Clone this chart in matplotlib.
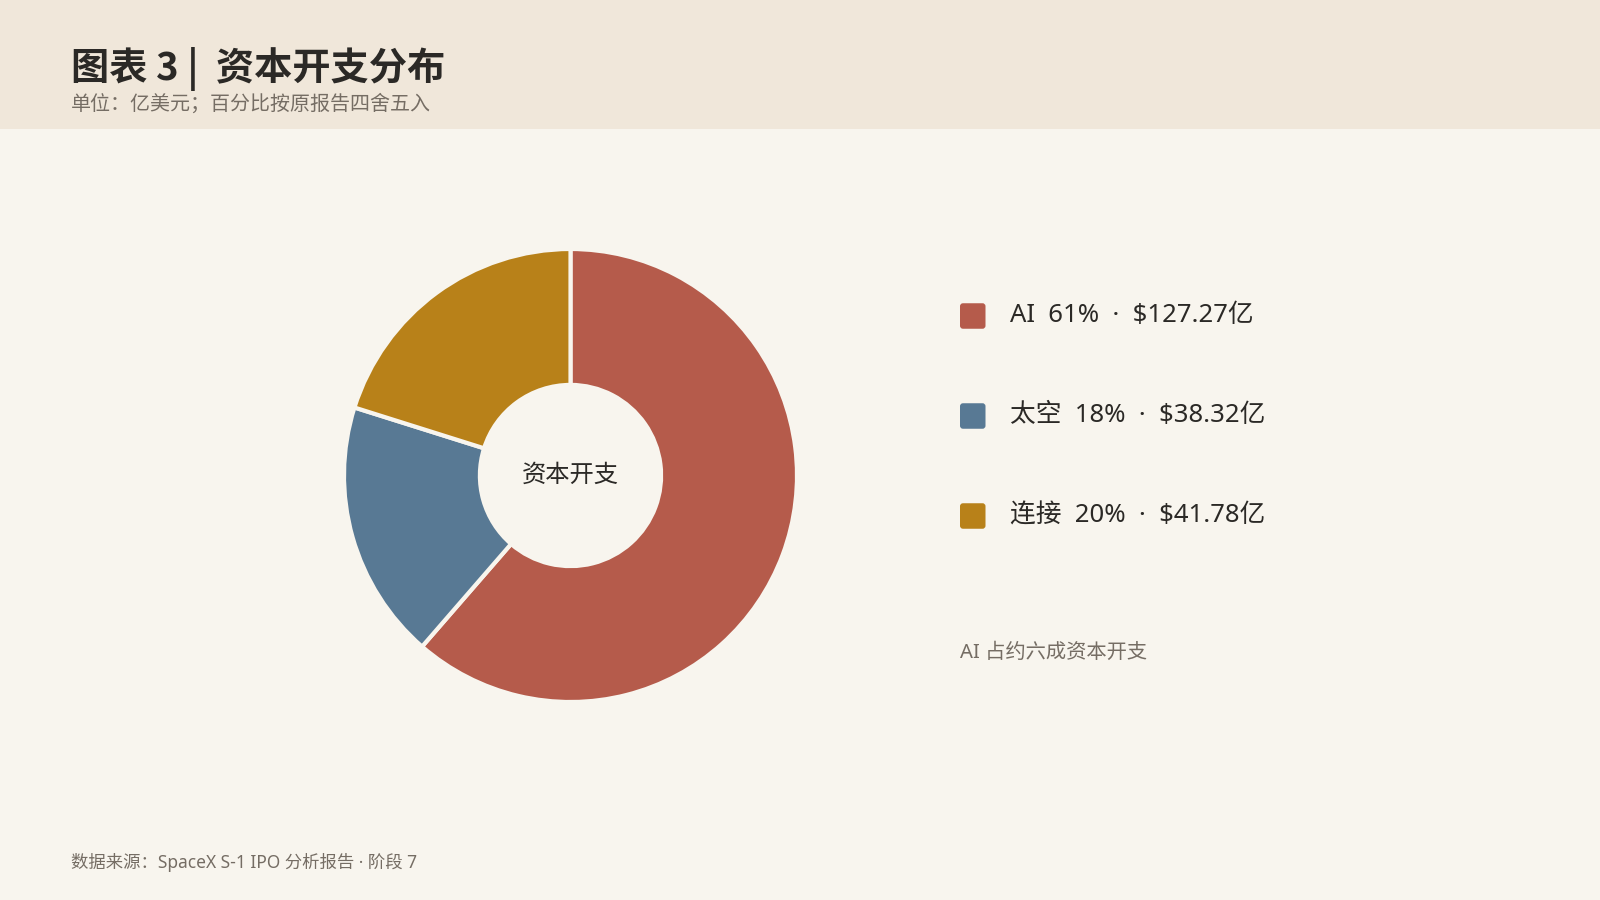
import matplotlib
matplotlib.use("Agg")
import matplotlib.pyplot as plt
from matplotlib.patches import FancyBboxPatch, Rectangle

plt.rcParams['font.family'] = ['Noto Sans', 'Noto Sans CJK SC', 'DejaVu Sans']

# data
categories = ['AI', '太空', '连接']
values = [127.27, 38.32, 41.78]  # 亿美元
percents = [61, 18, 20]  # 按原报告四舍五入
colors = ['#B55B4B', '#587994', '#B88119']

title = '图表 3 |  资本开支分布'
subtitle = '单位：亿美元；百分比按原报告四舍五入'
center_label = '资本开支'
note = 'AI 占约六成资本开支'
source = '数据来源：SpaceX S-1 IPO 分析报告 · 阶段 7'

W, H = 1600, 900
bg = '#F8F5EE'
header_bg = '#F0E7DA'
dark = '#2B2926'
gray = '#756D64'

fig = plt.figure(figsize=(16, 9), dpi=100, facecolor=bg)

# overlay in pixel coords for header / legend / texts
ov = fig.add_axes([0, 0, 1, 1])
ov.set_xlim(0, W)
ov.set_ylim(H, 0)
ov.axis('off')
ov.add_patch(Rectangle((0, 0), W, 128.5, facecolor=header_bg, edgecolor='none'))

ov.text(71, 80, title, fontsize=27.5, fontweight='bold', color=dark, va='baseline', ha='left',
        family=['Noto Sans CJK SC', 'DejaVu Sans'])
ov.text(71, 110, subtitle, fontsize=14.4, color=gray, va='baseline', ha='left')

# donut
cx, cy, r = 570.5, 475.5, 226.5
ax = fig.add_axes([(cx - r) / W, 1 - (cy + r) / H, 2 * r / W, 2 * r / H])
ax.pie(values, colors=colors, startangle=90, counterclock=False, radius=1,
       wedgeprops=dict(width=0.6, edgecolor=bg, linewidth=3))
ax.set_xlim(-1, 1)
ax.set_ylim(-1, 1)
ax.set_aspect('equal')
ax.axis('off')
ax.text(0, 0, center_label, fontsize=17.5, color=dark, ha='center', va='center')

# legend
lx, ly0, dy, sq = 960, 316, 100, 25.5
for i, (name, pct, val, c) in enumerate(zip(categories, percents, values, colors)):
    y = ly0 + i * dy
    ov.add_patch(FancyBboxPatch((lx, y - sq / 2), sq, sq,
                                boxstyle='round,pad=0,rounding_size=3',
                                facecolor=c, edgecolor='none'))
    ov.text(lx + 50, y, f'{name}  {pct}%  ·  ${val:.2f}亿', fontsize=18.5,
            color=dark, ha='left', va='center')

ov.text(lx, 658, note, fontsize=14.6, color=gray, ha='left', va='baseline')
ov.text(71, 868, source, fontsize=12.5, color=gray, ha='left', va='baseline')

fig.savefig('out.png', dpi=100, facecolor=bg)
